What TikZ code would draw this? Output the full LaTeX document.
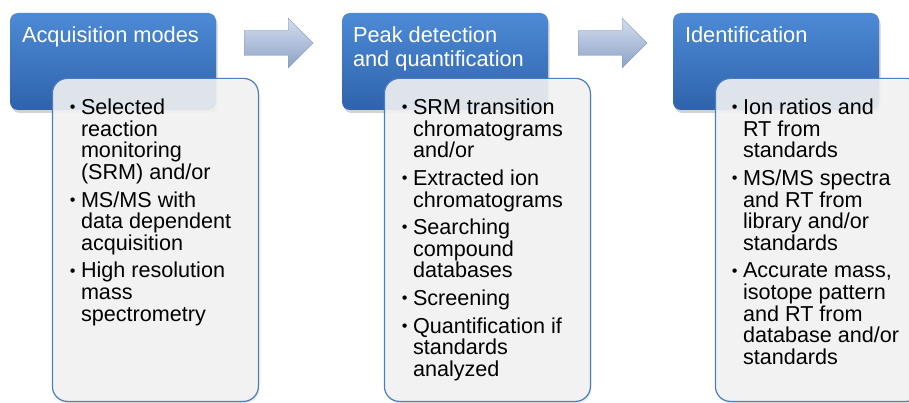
\documentclass[tikz,border=0pt]{standalone}
\usepackage{fontspec}
\setmainfont{Liberation Sans}
\usetikzlibrary{calc,shadows}

\definecolor{headtop}{HTML}{4D8AD5}
\definecolor{headbot}{HTML}{2F63AC}
\definecolor{listfill}{HTML}{F5F5F5}
\definecolor{listline}{HTML}{4A7DC0}
\definecolor{arrtop}{HTML}{D3DEEE}
\definecolor{arrbot}{HTML}{8CA2C6}
\definecolor{arrline}{HTML}{8497BA}

\newcommand{\bul}{\leavevmode\llap{\raisebox{1.9pt}{\scalebox{0.75}{\textbullet}}\hspace{5.5pt}}}
\newcommand{\boxlines}[1]{\begin{minipage}[t]{200pt}\raggedright\setlength{\parskip}{6pt}#1\end{minipage}}

\begin{document}
\begin{tikzpicture}[x=1pt, y=1pt,
  headbox/.style={shape=rectangle, rounded corners=8pt, minimum width=206pt, minimum height=97pt, top color=headtop, bottom color=headbot, draw=none, drop shadow={opacity=0.35, shadow xshift=1.5pt, shadow yshift=-3pt} },
  listbox/.style={shape=rectangle, rounded corners=15pt, minimum width=206pt, minimum height=323pt, fill=listfill, fill opacity=0.88, draw=listline, line width=1.2pt, drop shadow={opacity=0.2, shadow xshift=1pt, shadow yshift=-2pt} },
  headtext/.style={anchor=base west, inner sep=0, text=white, font=\fontsize{21.8}{24}\selectfont },
  listtext/.style={anchor=base west, inner sep=0, text=black, font=\fontsize{21.6}{21.6}\selectfont },
  blockarrow/.style={top color=arrtop, bottom color=arrbot, draw=arrline, line width=0.4pt },
]
\useasboundingbox (0,0) rectangle (909,402);
\clip (0,0) rectangle (909,402);

%%%header boxes
\node[headbox] (acq) at (113,340.5) {};
\node[headbox] (peak) at (445,340.5) {};
\node[headbox] (ident) at (776,340.5) {};

%%%list boxes
\node[listbox, anchor=north west] (acqlist) at ($(acq.north west)+(42,-65)$) {};
\node[listbox, anchor=north west] (peaklist) at ($(peak.north west)+(42,-65)$) {};
\node[listbox, anchor=north west] (identlist) at ($(ident.north west)+(42,-65)$) {};

%%%titles
\node[headtext] (acqtitle) at ($(acq.north west)+(12,-30)$) {Acquisition modes};
\node[headtext] (peaktitle) at ($(peak.north west)+(11,-30)$) {\boxlines{Peak detection\\and quantification}};
\node[headtext] (identtitle) at ($(ident.north west)+(12,-30)$) {Identification};

%%%bullets
\node[listtext] (acqitems) at ($(acqlist.north west)+(29,-37)$) {\boxlines{%
\bul Selected\\reaction\\monitoring\\(SRM) and/or\par
\bul MS/MS with\\data dependent\\acquisition\par
\bul High resolution\\mass\\spectrometry}};
\node[listtext] (peakitems) at ($(peaklist.north west)+(29,-37)$) {\boxlines{%
\bul SRM transition\\chromatograms\\and/or\par
\bul Extracted ion\\chromatograms\par
\bul Searching\\compound\\databases\par
\bul Screening\par
\bul Quantification if\\standards\\analyzed}};
\node[listtext] (identitems) at ($(identlist.north west)+(28,-37)$) {\boxlines{%
\bul Ion ratios and\\RT from\\standards\par
\bul MS/MS spectra\\and RT from\\library and/or\\standards\par
\bul Accurate mass,\\isotope pattern\\and RT from\\database and/or\\standards}};

%%%block arrows
\coordinate (arr1) at ($(acq.east)+(28,18.5)$);
\coordinate (arr2) at ($(peak.east)+(30,18.5)$);
\foreach \a in {arr1,arr2} {
  \shade[blockarrow] (\a) ++(0,12.5) -- ++(44,0) -- ++(0,12.5) -- ++(25,-25)
     -- ++(-25,-25) -- ++(0,12.5) -- ++(-44,0) -- cycle;
}
\end{tikzpicture}
\end{document}
